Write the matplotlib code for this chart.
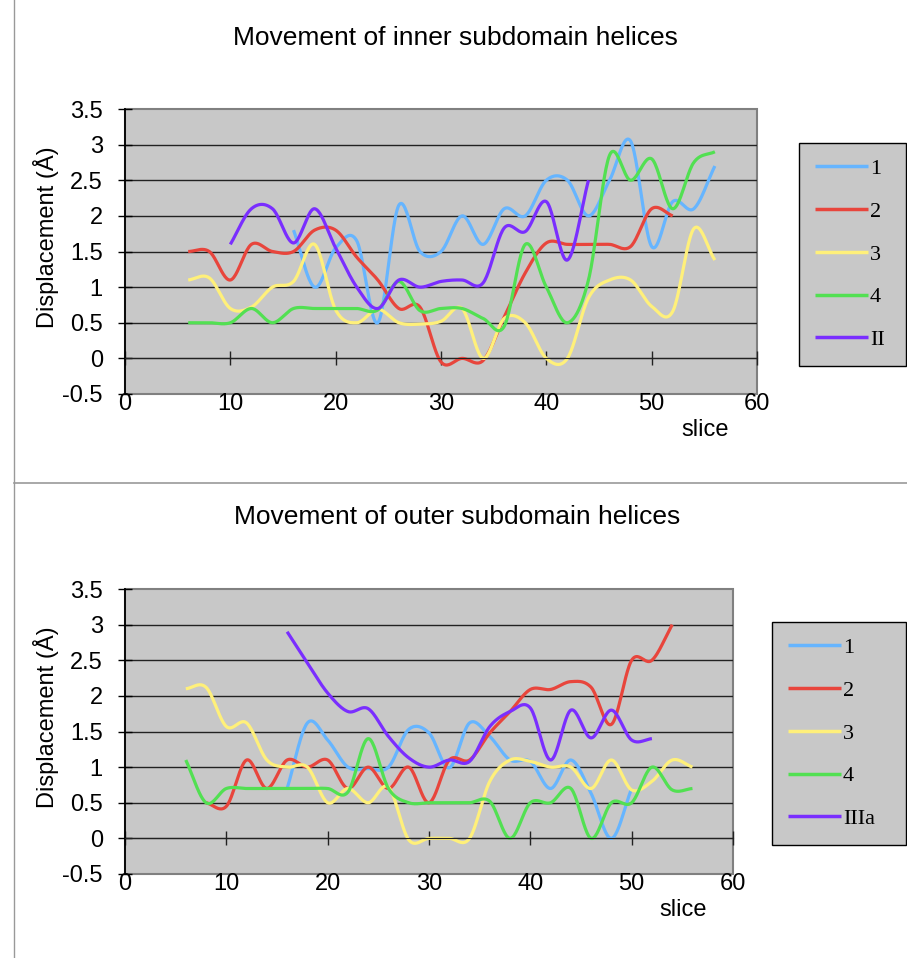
import matplotlib
matplotlib.use("Agg")
import matplotlib.pyplot as plt
import numpy as np
from matplotlib.lines import Line2D

plt.rcParams['font.family'] = ['Liberation Sans', 'DejaVu Sans']

# ---- data ----
labels_inner = ['1', '2', '3', '4', 'II']
labels_outer = ['1', '2', '3', '4', 'IIIa']

# inner subdomain helices
inner_x1 = list(range(16, 57, 2))
inner_y1 = [1.8, 1.0, 1.55, 1.65, 0.5, 2.15, 1.5, 1.5, 2.0, 1.6, 2.1,
            2.0, 2.5, 2.5, 2.0, 2.5, 3.05, 1.57, 2.2, 2.1, 2.7]
inner_x2 = list(range(6, 53, 2))
inner_y2 = [1.5, 1.5, 1.1, 1.6, 1.5, 1.5, 1.8, 1.8, 1.42, 1.1, 0.7, 0.72,
            -0.05, 0.0, -0.03, 0.58, 1.2, 1.62, 1.6, 1.6, 1.6, 1.57, 2.1, 2.0]
inner_x3 = list(range(6, 57, 2))
inner_y3 = [1.1, 1.13, 0.7, 0.72, 1.0, 1.08, 1.6, 0.68, 0.5, 0.69, 0.5, 0.48,
            0.52, 0.7, 0.0, 0.56, 0.5, 0.0, 0.0, 0.85, 1.1, 1.1, 0.73, 0.66,
            1.82, 1.38]
inner_x4 = list(range(6, 57, 2))
inner_y4 = [0.5, 0.5, 0.5, 0.7, 0.5, 0.7, 0.7, 0.7, 0.7, 0.68, 1.08, 0.67,
            0.7, 0.7, 0.56, 0.45, 1.6, 1.0, 0.5, 1.1, 2.85, 2.5, 2.8, 2.1,
            2.75, 2.9]
inner_x5 = list(range(10, 45, 2))
inner_y5 = [1.6, 2.1, 2.1, 1.62, 2.1, 1.55, 1.0, 0.7, 1.1, 1.0, 1.08, 1.1,
            1.06, 1.83, 1.78, 2.2, 1.38, 2.5]

# outer subdomain helices
outer_x1 = list(range(16, 51, 2))
outer_y1 = [0.7, 1.62, 1.38, 1.0, 0.98, 1.0, 1.53, 1.48, 0.99, 1.62, 1.43,
            1.1, 1.08, 0.7, 1.1, 0.63, 0.0, 0.7]
outer_x2 = list(range(8, 55, 2))
outer_y2 = [0.5, 0.45, 1.1, 0.7, 1.1, 1.0, 1.1, 0.7, 1.0, 0.7, 1.0, 0.5,
            1.1, 1.1, 1.48, 1.78, 2.09, 2.09, 2.2, 2.12, 1.6, 2.5, 2.5, 3.0]
outer_x3 = list(range(6, 57, 2))
outer_y3 = [2.1, 2.12, 1.57, 1.62, 1.1, 1.0, 1.0, 0.5, 0.7, 0.5, 0.72, -0.02,
            0.0, 0.0, 0.0, 0.8, 1.1, 1.08, 1.0, 1.0, 0.7, 1.1, 0.68, 0.8,
            1.1, 1.0]
outer_x4 = list(range(6, 57, 2))
outer_y4 = [1.1, 0.5, 0.7, 0.7, 0.7, 0.7, 0.7, 0.7, 0.65, 1.4, 0.7, 0.5,
            0.5, 0.5, 0.5, 0.52, 0.0, 0.5, 0.5, 0.7, 0.0, 0.5, 0.5, 1.0,
            0.68, 0.7]
outer_x5 = list(range(16, 53, 2))
outer_y5 = [2.9, 2.46, 2.04, 1.78, 1.82, 1.43, 1.13, 1.0, 1.1, 1.08, 1.57,
            1.78, 1.83, 1.1, 1.8, 1.41, 1.8, 1.38, 1.4]

colors = ['#66b5ff', '#e8453c', '#fff07a', '#52e052', '#7a2eff']
yticks = [-0.5, 0, 0.5, 1, 1.5, 2, 2.5, 3, 3.5]
xticks = [0, 10, 20, 30, 40, 50, 60]

W, H = 907, 958


def smooth(x, y, n=24):
    """Excel-style smoothed line (Catmull-Rom through the points)."""
    x = np.asarray(x, float)
    y = np.asarray(y, float)
    px = np.concatenate([[2 * x[0] - x[1]], x, [2 * x[-1] - x[-2]]])
    py = np.concatenate([[2 * y[0] - y[1]], y, [2 * y[-1] - y[-2]]])
    t = np.linspace(0, 1, n, endpoint=False)[:, None]
    out_x, out_y = [], []
    for i in range(1, len(px) - 2):
        for p, out in ((px, out_x), (py, out_y)):
            p0, p1, p2, p3 = p[i - 1], p[i], p[i + 1], p[i + 2]
            seg = 0.5 * ((2 * p1) + (-p0 + p2) * t +
                         (2 * p0 - 5 * p1 + 4 * p2 - p3) * t ** 2 +
                         (-p0 + 3 * p1 - 3 * p2 + p3) * t ** 3)
            out.extend(seg.ravel())
    out_x.append(x[-1])
    out_y.append(y[-1])
    return out_x, out_y


def draw_panel(rect, series, labels, title, title_xy, legend_box):
    ax = fig.add_axes(rect)
    ax.set_facecolor('#c8c8c8')
    ax.patch.set_edgecolor('#808080')
    ax.patch.set_linewidth(1.5)
    for (xs, ys), c, lab in zip(series, colors, labels):
        sx, sy = smooth(xs, ys)
        ax.plot(sx, sy, color=c, lw=2.3, label=lab, solid_capstyle='butt')
    ax.set_xlim(0, 60)
    ax.set_ylim(-0.5, 3.5)
    ax.set_xticks(xticks)
    ax.set_yticks(yticks)
    ax.set_yticklabels([f'{v:g}' for v in yticks])
    ax.yaxis.grid(True, color='#222222', lw=1.0)
    gl = ax.get_ygridlines()
    gl[0].set_visible(False)
    gl[-1].set_visible(False)
    ax.set_axisbelow(True)
    ax.spines['top'].set_visible(False)
    ax.spines['right'].set_visible(False)
    ax.spines['bottom'].set_position(('data', 0))
    ax.spines['bottom'].set_color('#222222')
    ax.spines['left'].set_linewidth(1.3)
    ax.tick_params(axis='y', direction='inout', length=10, width=1,
                   labelsize=17, pad=11)
    ax.tick_params(axis='x', direction='inout', length=10, width=1,
                   labelsize=17, pad=20, color='#222222')
    ax.set_ylabel('Displacement (Å)', fontsize=17)
    ax.yaxis.set_label_coords((59 - 125) / (rect[2] * W), 0.55)
    ax.text(0.918, -0.125, 'slice', transform=ax.transAxes, fontsize=17,
            ha='center', va='center')
    fig.text(title_xy[0] / W, 1 - title_xy[1] / H, title, fontsize=19,
             ha='center', va='center')
    lx, ly, lw_ = legend_box
    leg = ax.legend(loc='upper left', mode='expand',
                    bbox_to_anchor=(lx / W, 1 - ly / H, lw_ / W, 0),
                    bbox_transform=fig.transFigure, borderaxespad=0,
                    prop={'family': 'Liberation Serif', 'size': 16},
                    handlelength=2.4, handletextpad=0.1, labelspacing=1.0,
                    borderpad=0.7, fancybox=False, framealpha=1)
    leg.get_frame().set_facecolor('#c8c8c8')
    leg.get_frame().set_edgecolor('black')
    leg.get_frame().set_linewidth(1.0)
    for line in leg.get_lines():
        line.set_linewidth(2.5)
    return ax


fig = plt.figure(figsize=(W / 100, H / 100), dpi=100)

inner = [(inner_x1, inner_y1), (inner_x2, inner_y2), (inner_x3, inner_y3),
         (inner_x4, inner_y4), (inner_x5, inner_y5)]
outer = [(outer_x1, outer_y1), (outer_x2, outer_y2), (outer_x3, outer_y3),
         (outer_x4, outer_y4), (outer_x5, outer_y5)]

draw_panel([125 / W, 1 - 394 / H, 632 / W, 285 / H], inner, labels_inner,
           'Movement of inner subdomain helices', (455, 38), (799, 143, 107))
draw_panel([125 / W, 1 - 874 / H, 608 / W, 285 / H], outer, labels_outer,
           'Movement of outer subdomain helices', (457, 517), (772, 622, 134))

# frame lines of the two chart objects
fig.add_artist(Line2D([14 / W, 14 / W], [0, 1], color='#999999', lw=1))
fig.add_artist(Line2D([14 / W, 1], [1 - 483 / H, 1 - 483 / H],
                      color='#999999', lw=1.2))

fig.savefig('out.png', dpi=100)
